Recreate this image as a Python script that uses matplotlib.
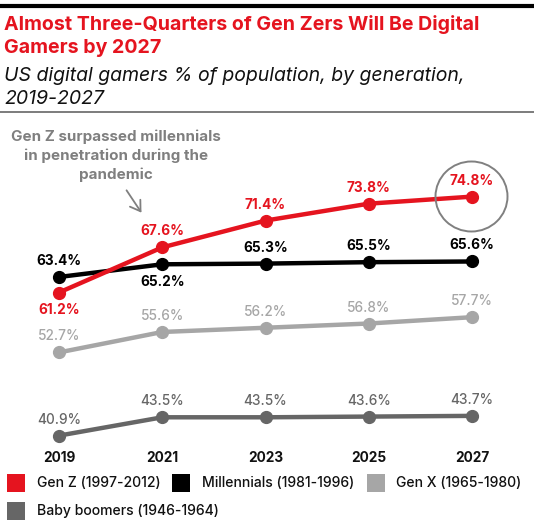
import matplotlib
matplotlib.use("Agg")
import matplotlib.pyplot as plt
from matplotlib.patches import Ellipse, Rectangle, FancyArrowPatch
from matplotlib.lines import Line2D

plt.rcParams['font.family'] = ['Inter', 'DejaVu Sans']

years = [2019, 2021, 2023, 2025, 2027]
gen_z = [61.2, 67.6, 71.4, 73.8, 74.8]
millennials = [63.4, 65.2, 65.3, 65.5, 65.6]
gen_x = [52.7, 55.6, 56.2, 56.8, 57.7]
boomers = [40.9, 43.5, 43.5, 43.6, 43.7]
series_names = ["Gen Z (1997-2012)", "Millennials (1981-1996)", "Gen X (1965-1980)", "Baby boomers (1946-1964)"]

RED = "#e5141f"
BLACK = "#000000"
LGRAY = "#a6a6a6"
DGRAY = "#666666"
ANN = "#7f7f7f"

W, H = 534, 523
fig = plt.figure(figsize=(W/100, H/100), dpi=100)

def fx(px):
    return px / W
def fy(py):
    return 1 - py / H

# header lines
fig.add_artist(Line2D([0, 1], [fy(6), fy(6)], color="#000000", lw=3.0))
fig.add_artist(Line2D([0, 1], [fy(112), fy(112)], color="#666666", lw=1.2))

fig.text(fx(4), fy(24), "Almost Three-Quarters of Gen Zers Will Be Digital", color=RED,
         fontsize=14.1, fontweight='bold', va='center', ha='left')
fig.text(fx(4), fy(48), "Gamers by 2027", color=RED,
         fontsize=14.1, fontweight='bold', va='center', ha='left')
fig.text(fx(4), fy(76), "US digital gamers % of population, by generation,", color="#111111",
         fontsize=14, fontstyle='italic', va='center', ha='left')
fig.text(fx(4), fy(99), "2019-2027", color="#111111",
         fontsize=14, fontstyle='italic', va='center', ha='left')

# axes: x 2019 at px 59, 2027 at px 472; y scale 7.05 px/unit, 61.2 at px 292.5
ax_left, ax_right = 17, 515
ax_top, ax_bot = 180, 445
ax = fig.add_axes([fx(ax_left), fy(ax_bot), fx(ax_right) - fx(ax_left), fy(ax_top) - fy(ax_bot)])
X19, X27 = 59, 472
ppu_x = (X27 - X19) / 8.0
x0 = 2019 - (X19 - ax_left) / ppu_x
x1 = 2019 + (ax_right - X19) / ppu_x
ppu_y = 7.05
Y612 = 292.5
y1 = 61.2 + (Y612 - ax_top) / ppu_y
y0 = 61.2 - (ax_bot - Y612) / ppu_y
ax.set_xlim(x0, x1)
ax.set_ylim(y0, y1)
ax.axis('off')

all_series = [(boomers, DGRAY), (gen_x, LGRAY), (millennials, BLACK), (gen_z, RED)]
for vals, col in all_series:
    ax.plot(years, vals, color=col, lw=3.2, marker='o', markersize=8.5, solid_capstyle='round', zorder=3)

def lab(x, v, txt, col, dy):
    ax.annotate(txt, (x, v), xytext=(0, dy), textcoords='offset pixels', ha='center', va='center',
                color=col, fontsize=9.8, fontweight='bold' if col in (RED, BLACK) else 'medium')

for i, (x, v) in enumerate(zip(years, gen_z)):
    lab(x, v, f"{v:.1f}%", RED, -18 if i == 0 else 16)
for i, (x, v) in enumerate(zip(years, millennials)):
    lab(x, v, f"{v:.1f}%", BLACK, -18 if i == 1 else 16)
for x, v in zip(years, gen_x):
    lab(x, v, f"{v:.1f}%", LGRAY, 16)
for x, v in zip(years, boomers):
    lab(x, v, f"{v:.1f}%", DGRAY, 16)

# x tick labels
for x in years:
    ax.annotate(str(x), (x, y0), xytext=(0, -13), textcoords='offset pixels', ha='center', va='center',
                fontsize=9.8, fontweight='bold', color='#111111', annotation_clip=False)

# circle around 2027 Gen Z
circ = Ellipse((fx(471.5), fy(196.5)), 2 * 36 / W, 2 * 35 / H, transform=fig.transFigure,
               fill=False, edgecolor="#808080", lw=1.4)
fig.add_artist(circ)

# annotation
for i, t in enumerate(["Gen Z surpassed millennials", "in penetration during the", "pandemic"]):
    fig.text(fx(116), fy(137 + 19 * i), t, color=ANN, fontsize=10.9, fontweight='bold', ha='center', va='center')
fig.add_artist(FancyArrowPatch((fx(125), fy(188)), (fx(143), fy(215)),
               transform=fig.transFigure, arrowstyle='->,head_length=7,head_width=4.5', color=ANN, lw=1.3,
               mutation_scale=1))

# legend
cols = [RED, BLACK, LGRAY, DGRAY]
pos = [(7, 37, 483), (172, 202, 483), (367, 396, 483), (7, 37, 511)]
for (sx, tx, yy), col, name in zip(pos, cols, series_names):
    fig.add_artist(Rectangle((fx(sx), fy(yy + 9)), 18 / W, 18 / H, transform=fig.transFigure,
                             facecolor=col, edgecolor='none'))
    fig.text(fx(tx), fy(yy), name, fontsize=10.1, fontweight='medium', color='#111111', ha='left', va='center')

fig.savefig("out.png", dpi=100)
